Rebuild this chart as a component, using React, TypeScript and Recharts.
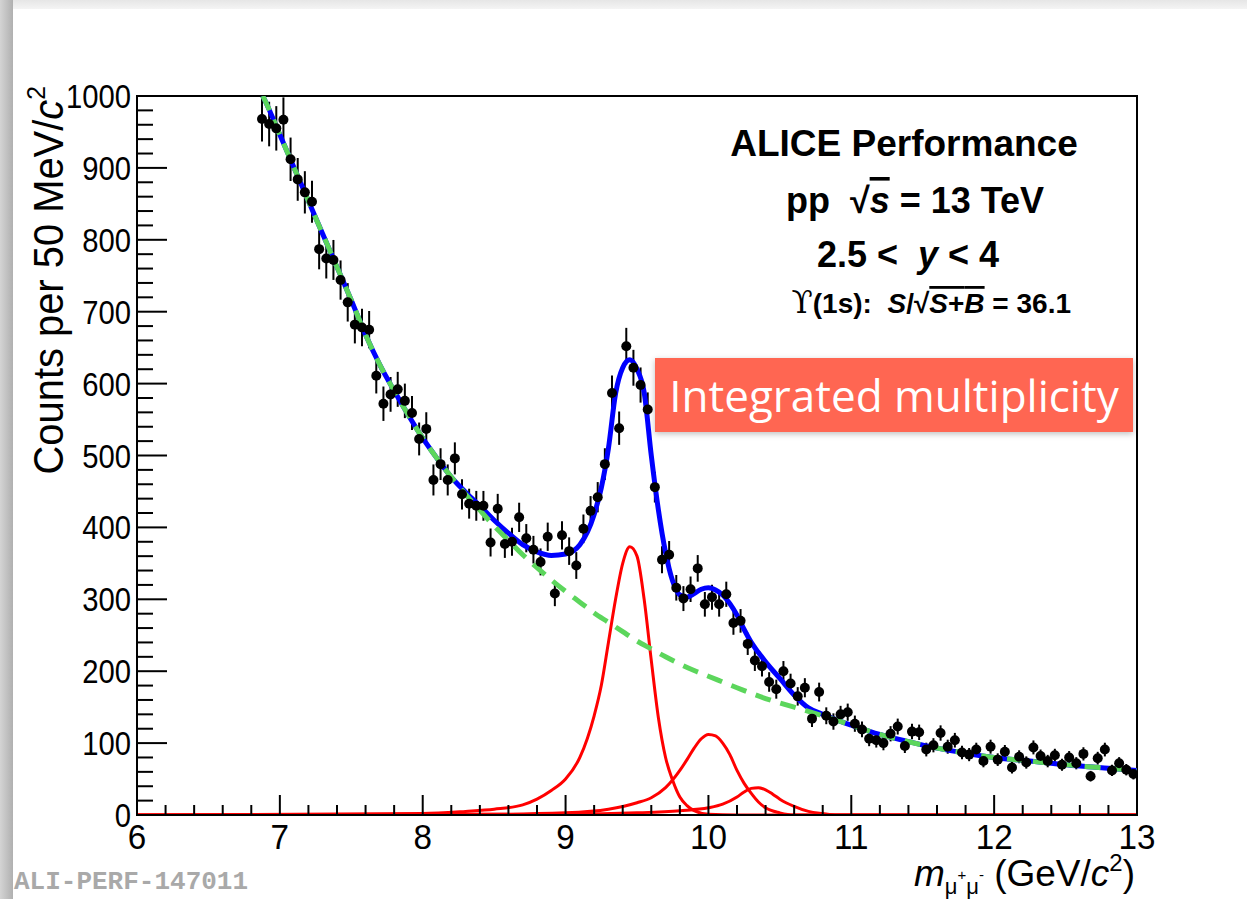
import { ComposedChart, Line, Scatter, ErrorBar, XAxis, YAxis, ReferenceArea } from "recharts"

// dimuon invariant mass, 50 MeV/c2 bins (bin centres) and counts
const binMass = [
  6.875, 6.925, 6.975, 7.025, 7.075, 7.125, 7.175, 7.225, 7.275, 7.325, 7.375, 7.425, 7.475, 7.525, 7.575,
  7.625, 7.675, 7.725, 7.775, 7.825, 7.875, 7.925, 7.975, 8.025, 8.075, 8.125, 8.175, 8.225, 8.275, 8.325,
  8.375, 8.425, 8.475, 8.525, 8.575, 8.625, 8.675, 8.725, 8.775, 8.825, 8.875, 8.925, 8.975, 9.025, 9.075,
  9.125, 9.175, 9.225, 9.275, 9.325, 9.375, 9.425, 9.475, 9.525, 9.575, 9.625, 9.675, 9.725, 9.775, 9.825,
  9.875, 9.925, 9.975, 10.025, 10.075, 10.125, 10.175, 10.225, 10.275, 10.325, 10.375, 10.425, 10.475, 10.525,
  10.575, 10.625, 10.675, 10.725, 10.775, 10.825, 10.875, 10.925, 10.975, 11.025, 11.075, 11.125, 11.175,
  11.225, 11.275, 11.325, 11.375, 11.425, 11.475, 11.525, 11.575, 11.625, 11.675, 11.725, 11.775, 11.825,
  11.875, 11.925, 11.975, 12.025, 12.075, 12.125, 12.175, 12.225, 12.275, 12.325, 12.375, 12.425, 12.475,
  12.525, 12.575, 12.625, 12.675, 12.725, 12.775, 12.825, 12.875, 12.925, 12.975,
]
const binCounts = [
  968, 961, 955, 967, 912, 884, 866, 853, 787, 774, 772, 744, 713, 682, 678,
  675, 611, 572, 585, 592, 576, 559, 523, 537, 466, 488, 466, 496, 446, 433,
  430, 430, 379, 426, 377, 380, 414, 385, 369, 352, 387, 308, 389, 367, 347,
  398, 423, 442, 488, 587, 538, 652, 622, 598, 564, 456, 355, 362, 316, 301,
  314, 343, 293, 303, 293, 307, 267, 270, 238, 215, 207, 185, 175, 200,
  183, 165, 177, 134, 171, 138, 130, 140, 143, 127, 119, 106, 104,
  100, 113, 123, 96, 116, 115, 91, 97, 114, 95, 104, 87, 84,
  91, 75, 95, 77, 88, 66, 81, 73, 94, 82, 75, 83, 70,
  80, 72, 85, 54, 79, 91, 62, 72, 63, 57,
]

// background fit (green dashed)
const bkgMass = [
  6.88, 6.9, 7.0, 7.1, 7.2, 7.3, 7.4, 7.5, 7.6, 7.7, 7.8, 7.9, 8.0, 8.1, 8.2, 8.3, 8.4, 8.5, 8.6, 8.7,
  8.8, 8.9, 9.0, 9.1, 9.2, 9.3, 9.4, 9.5, 9.6, 9.7, 9.8, 9.9, 10.0, 10.2, 10.4, 10.6, 10.8, 11.0, 11.2,
  11.4, 11.6, 11.8, 12.0, 12.2, 12.4, 12.6, 12.8, 13.0,
]
const bkgCounts = [
  1000, 992, 946, 900, 854, 808, 762, 716, 668, 626, 590, 556, 524, 496, 470, 446, 424, 402, 382, 362,
  344, 327, 311, 296, 281, 268, 255, 242, 231, 220, 210, 201, 193, 177, 162, 150, 138, 125, 112,
  102, 93, 86, 80, 76, 72, 68, 65, 62,
]

// total fit (blue)
const totalMass = [
  6.88, 6.9, 7.0, 7.1, 7.2, 7.3, 7.4, 7.5, 7.6, 7.7, 7.8, 7.9, 8.0, 8.1, 8.2, 8.3, 8.4, 8.5, 8.6, 8.7,
  8.8, 8.9, 9.0, 9.1, 9.2, 9.25, 9.3, 9.35, 9.4, 9.45, 9.5, 9.55, 9.6, 9.65, 9.7, 9.75, 9.8, 9.85, 9.9,
  9.95, 10.0, 10.05, 10.1, 10.15, 10.2, 10.25, 10.3, 10.35, 10.4, 10.5, 10.6, 10.7, 10.8, 10.9, 11.0,
  11.2, 11.4, 11.6, 11.8, 12.0, 12.2, 12.4, 12.6, 12.8, 13.0,
]
const totalCounts = [
  1000, 992, 946, 900, 854, 808, 762, 716, 668, 626, 590, 556, 524, 496, 470, 449, 430, 410, 392, 376,
  366, 361, 363, 376, 418, 455, 510, 586, 622, 633, 620, 588, 500, 424, 365, 325, 306, 303, 308,
  314, 316, 313, 306, 294, 278, 258, 240, 226, 213, 190, 167, 149, 140, 132, 125,
  112, 102, 93, 86, 80, 76, 72, 68, 65, 62,
]

// signal shapes (red): Y(1S), Y(2S), Y(3S)
const ups1Mass = [6, 8.0, 8.3, 8.5, 8.7, 8.8, 8.9, 9.0, 9.1, 9.2, 9.25, 9.3, 9.35, 9.4, 9.45, 9.5, 9.55, 9.6, 9.65, 9.7, 9.75, 9.8, 9.85, 9.9, 10.0, 10.2, 13]
const ups1Counts = [0, 2, 5, 8, 14, 22, 34, 50, 80, 138, 180, 240, 300, 350, 373, 360, 300, 215, 135, 80, 48, 25, 13, 6, 1, 0, 0]
const ups2Mass = [6, 8.5, 9.0, 9.3, 9.5, 9.6, 9.7, 9.8, 9.85, 9.9, 9.95, 10.0, 10.05, 10.1, 10.15, 10.2, 10.25, 10.3, 10.35, 10.4, 10.5, 10.6, 13]
const ups2Counts = [0, 1, 3, 8, 17, 24, 38, 62, 77, 93, 106, 112, 110, 100, 84, 62, 44, 30, 18, 10, 3, 0, 0]
const ups3Mass = [6, 9.0, 9.5, 9.8, 10.0, 10.1, 10.2, 10.25, 10.3, 10.35, 10.4, 10.45, 10.5, 10.6, 10.7, 10.8, 10.9, 13]
const ups3Counts = [0, 1, 3, 6, 10, 15, 25, 32, 37, 38, 35, 29, 22, 12, 5, 2, 0, 0]

const xLabels = [6, 7, 8, 9, 10, 11, 12, 13]
const yLabels = [0, 100, 200, 300, 400, 500, 600, 700, 800, 900, 1000]
const xTicks = Array.from({ length: 36 }, (_, i) => +(6 + i * 0.2).toFixed(1))
const yTicks = Array.from({ length: 51 }, (_, i) => i * 20)

const toPoints = (xs: number[], ys: number[]) => xs.map((x, i) => ({ x, y: ys[i] }))
const points = binMass.map((x, i) => ({ x, y: binCounts[i], err: Math.sqrt(binCounts[i]) }))

const font = "'Liberation Sans', Arial, Helvetica, sans-serif"

const XTick = (props: any) => {
  const { x, y, payload } = props
  const v = payload.value
  const major = xLabels.some((l) => Math.abs(l - v) < 1e-6)
  return (
    <g>
      <line x1={x} x2={x} y1={y} y2={y - (major ? 20 : 10)} stroke="#000" strokeWidth={2} />
      {major && (
        <text transform={`translate(${x},${y + 34}) scale(0.95,1)`} textAnchor="middle" fontSize={35} fontFamily={font} fill="#000">
          {v}
        </text>
      )}
    </g>
  )
}

const YTick = (props: any) => {
  const { x, y, payload } = props
  const v = payload.value
  const major = yLabels.includes(v)
  return (
    <g>
      <line x1={x} x2={x + (major ? 30 : 16)} y1={y} y2={y} stroke="#000" strokeWidth={2} />
      {major && (
        <text transform={`translate(${x - 6},${y + 12}) scale(0.86,1)`} textAnchor="end" fontSize={34} fontFamily={font} fill="#000">
          {v}
        </text>
      )}
    </g>
  )
}

const Dot = (props: any) => <circle cx={props.cx} cy={props.cy} r={5} fill="#000" />

export default function App() {
  return (
    <div style={{ position: "absolute", left: 0, top: 0, width: 1247, height: 899, background: "#fff", overflow: "hidden", fontFamily: font }}>
      <div style={{ position: "absolute", left: 0, top: 0, width: 1247, height: 9, background: "linear-gradient(to bottom, #e6e6e6, #f4f4f4)" }} />
      <div style={{ position: "absolute", left: 0, top: 0, width: 13, height: 899, background: "linear-gradient(to right, #d4d4d4, #b0b0b0)" }} />
      <div style={{ position: "absolute", left: 0, top: 0 }}>
        <ComposedChart width={1247} height={899} margin={{ top: 96, right: 110, bottom: 83, left: 136 }}>
          <XAxis
            type="number"
            dataKey="x"
            domain={[6, 13]}
            allowDataOverflow
            ticks={xTicks}
            interval={0}
            height={1}
            tickSize={0}
            tickMargin={0}
            tickLine={false}
            axisLine={{ stroke: "#000", strokeWidth: 2 }}
            tick={(p: any) => <XTick {...p} />}
          />
          <YAxis
            type="number"
            domain={[0, 1000]}
            allowDataOverflow
            ticks={yTicks}
            interval={0}
            width={1}
            tickSize={0}
            tickMargin={0}
            tickLine={false}
            axisLine={{ stroke: "#000", strokeWidth: 2 }}
            tick={(p: any) => <YTick {...p} />}
          />
          <ReferenceArea x1={6} x2={13} y1={0} y2={1000} fill="none" stroke="#000" strokeWidth={2} ifOverflow="visible" />
          <Scatter data={points} dataKey="y" shape={<Dot />} isAnimationActive={false}>
            <ErrorBar dataKey="err" direction="y" width={0} stroke="#000" strokeWidth={2} />
          </Scatter>
          <Line data={toPoints(ups1Mass, ups1Counts)} dataKey="y" type="monotone" stroke="#ff0000" strokeWidth={3} dot={false} isAnimationActive={false} />
          <Line data={toPoints(ups2Mass, ups2Counts)} dataKey="y" type="monotone" stroke="#ff0000" strokeWidth={3} dot={false} isAnimationActive={false} />
          <Line data={toPoints(ups3Mass, ups3Counts)} dataKey="y" type="monotone" stroke="#ff0000" strokeWidth={3} dot={false} isAnimationActive={false} />
          <Line data={toPoints(totalMass, totalCounts)} dataKey="y" type="monotone" stroke="#0000ff" strokeWidth={5} dot={false} isAnimationActive={false} />
          <Line data={toPoints(bkgMass, bkgCounts)} dataKey="y" type="monotone" stroke="#5cd65c" strokeWidth={5} strokeDasharray="16 10" dot={false} isAnimationActive={false} />
        </ComposedChart>
      </div>

      <svg width={1247} height={899} style={{ position: "absolute", left: 0, top: 0, pointerEvents: "none" }} fontFamily={font}>
        <text x={904} y={156} textAnchor="middle" fontSize={37} fontWeight="bold">ALICE Performance</text>
        <text x={915} y={213} textAnchor="middle" fontSize={36} fontWeight="bold" style={{ whiteSpace: "pre" }}>
          {"pp  √"}<tspan fontStyle="italic" textDecoration="overline">s</tspan>{" = 13 TeV"}
        </text>
        <text x={908} y={267} textAnchor="middle" fontSize={36} fontWeight="bold" style={{ whiteSpace: "pre" }}>
          {"2.5 <  "}<tspan fontStyle="italic">y</tspan>{" < 4"}
        </text>
        <text x={1071} y={313} textAnchor="end" fontSize={28} fontWeight="bold" style={{ whiteSpace: "pre" }}>
          <tspan fontFamily="'DejaVu Serif', 'Liberation Serif', serif" fontWeight="normal" fontSize={31}>ϒ</tspan>
          {"(1s):  "}
          <tspan fontStyle="italic">S</tspan>
          {"/√"}
          <tspan textDecoration="overline"><tspan fontStyle="italic">S</tspan>+<tspan fontStyle="italic">B</tspan></tspan>
          {" = 36.1"}
        </text>

        <text transform="translate(63,86) rotate(-90) scale(0.95,1)" textAnchor="end" fontSize={42} style={{ whiteSpace: "pre" }}>
          {"Counts per 50 MeV/"}<tspan fontStyle="italic">c</tspan><tspan fontSize={26} dy={-18}>2</tspan>
        </text>

        <text x={1135} y={886} textAnchor="end" fontSize={37} style={{ whiteSpace: "pre" }}>
          <tspan fontStyle="italic">m</tspan>
          <tspan fontSize={22} dy={8}>μ</tspan>
          <tspan fontSize={15} dy={-14}>+</tspan>
          <tspan fontSize={22} dy={14}>μ</tspan>
          <tspan fontSize={15} dy={-14}>-</tspan>
          <tspan dy={6}>{" (GeV/"}</tspan>
          <tspan fontStyle="italic">c</tspan>
          <tspan fontSize={24} dy={-15}>2</tspan>
          <tspan dy={15}>)</tspan>
        </text>

        <text x={14} y={889} fontFamily="'Liberation Mono', 'Courier New', monospace" fontWeight="bold" fontSize={26} fill="#a9a9a9">
          ALI-PERF-147011
        </text>
      </svg>

      <div
        style={{
          position: "absolute",
          left: 655,
          top: 358,
          width: 478,
          height: 74,
          background: "#ff6652",
          boxShadow: "0 2px 6px rgba(0,0,0,0.25)",
          color: "#fff",
          fontFamily: "'Open Sans', 'Noto Sans', sans-serif",
          fontSize: 44,
          lineHeight: "74px",
          textAlign: "center",
          whiteSpace: "nowrap",
        }}
      >
        Integrated multiplicity
      </div>
    </div>
  )
}
